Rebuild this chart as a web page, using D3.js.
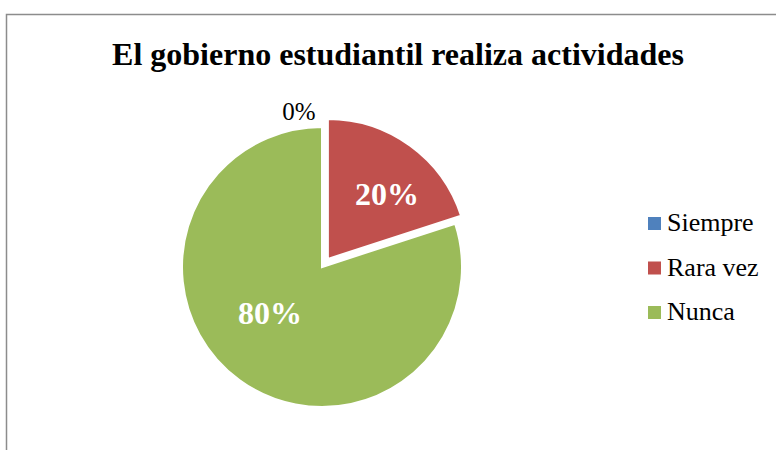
<!DOCTYPE html>
<html>
<head>
<meta charset="utf-8">
<script src="https://d3js.org/d3.v7.min.js"></script>
<style>
  body { margin: 0; background: #fff; }
</style>
</head>
<body>
<div id="chart"></div>
<script>
// chart values
var categories = ["Siempre", "Rara vez", "Nunca"];
var values = [0, 20, 80];
var colors = ["#4F81BD", "#C0504D", "#9BBB59"];
var title = "El gobierno estudiantil realiza actividades";

var width = 776, height = 450;
var serif = "'Liberation Serif', 'Times New Roman', Times, serif";

var svg = d3.select("#chart").append("svg")
    .attr("width", width)
    .attr("height", height)
    .attr("font-family", serif);

// outer chart border (runs off right/bottom edge)
svg.append("rect")
    .attr("x", 6.5).attr("y", 14.5)
    .attr("width", 800).attr("height", 500)
    .attr("fill", "none")
    .attr("stroke", "#8c8c8c")
    .attr("stroke-width", 1.5);

svg.append("text")
    .attr("x", 398).attr("y", 65)
    .attr("text-anchor", "middle")
    .attr("font-family", serif)
    .attr("font-size", 32)
    .attr("font-weight", "bold")
    .text(title);

var cx = 322, cy = 267, radius = 140, explode = 10;

var pie = d3.pie().sort(null).value(function(d) { return d; });
var arcs = pie(values);
var arc = d3.arc().innerRadius(0).outerRadius(radius);
var labelArc = d3.arc().innerRadius(radius * 0.62).outerRadius(radius * 0.62);

// small nudges so labels sit where Excel put them
var nudge = {1: [14, -3], 2: [-1, -24]};

var plot = svg.append("g").attr("transform", "translate(" + cx + "," + cy + ")");

plot.selectAll("path.slice")
  .data(arcs)
  .enter().append("path")
    .attr("class", "slice")
    .attr("transform", function(d, i) {
      // only the "Rara vez" slice is pulled out
      if (i !== 1) return null;
      var a = (d.startAngle + d.endAngle) / 2;
      return "translate(" + (Math.sin(a) * explode) + "," + (-Math.cos(a) * explode) + ")";
    })
    .attr("d", arc)
    .attr("fill", function(d, i) { return colors[i]; })
    .attr("stroke", "#fff")
    .attr("stroke-width", 2);

// data labels inside slices
plot.selectAll("text.inlabel")
  .data(arcs.filter(function(d) { return d.data > 0; }))
  .enter().append("text")
    .attr("class", "inlabel")
    .attr("transform", function(d) {
      var c = labelArc.centroid(d);
      var n = nudge[d.index] || [0, 0];
      return "translate(" + (c[0] + n[0]) + "," + (c[1] + n[1]) + ")";
    })
    .attr("dy", "0.35em")
    .attr("text-anchor", "middle")
    .attr("fill", "#fff")
    .attr("font-family", serif)
    .attr("font-size", 32)
    .attr("font-weight", "bold")
    .text(function(d) { return d.data + "%"; });

// zero-value label sits just outside the top
plot.selectAll("text.zerolabel")
  .data(arcs.filter(function(d) { return d.data === 0; }))
  .enter().append("text")
    .attr("class", "zerolabel")
    .attr("x", -23).attr("y", -radius - 7)
    .attr("text-anchor", "middle")
    .attr("fill", "#000")
    .attr("font-family", serif)
    .attr("font-size", 25)
    .text(function(d) { return d.data + "%"; });

// legend
var legend = svg.append("g").attr("transform", "translate(648,217)");
var items = legend.selectAll("g.item")
  .data(categories)
  .enter().append("g")
    .attr("class", "item")
    .attr("transform", function(d, i) { return "translate(0," + (i * 44.5) + ")"; });

items.append("rect")
    .attr("width", 13).attr("height", 13)
    .attr("fill", function(d, i) { return colors[i]; });

items.append("text")
    .attr("x", 19).attr("y", 14)
    .attr("fill", "#000")
    .attr("font-family", serif)
    .attr("font-size", 26)
    .text(function(d) { return d; });
</script>
</body>
</html>
